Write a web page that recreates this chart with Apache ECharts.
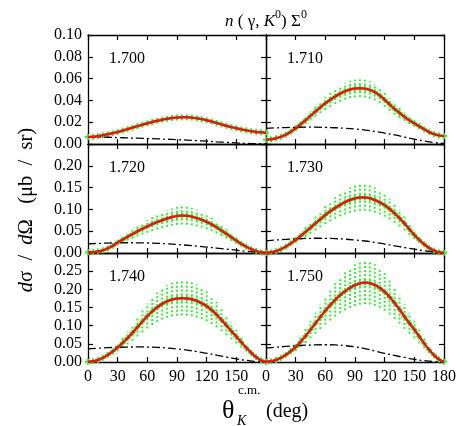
<!DOCTYPE html>
<html>
<head>
<meta charset="utf-8">
<script src="https://cdn.jsdelivr.net/npm/echarts@6/dist/echarts.min.js"></script>
<style>
  html, body { margin: 0; padding: 0; background: #fff; }
  #main { width: 463px; height: 426px; }
</style>
</head>
<body>
<div id="main"></div>
<script>
// angles of the data points (deg) and of the background curve
var angles = [0,5,10,15,20,25,30,35,40,45,50,55,60,65,70,75,80,85,90,95,100,105,110,115,120,125,130,135,140,145,150,155,160,165,170,175,180];
var bgAngles = [0,10,20,30,40,50,60,70,80,90,100,110,120,130,140,150,160,170,180];
var energies = ['1.700', '1.710', '1.720', '1.730', '1.740', '1.750'];
var xTicks = [0, 30, 60, 90, 120, 150, 180];

// full model (red) = centre of green bands
var fit1700 = [0.0065,0.0067,0.0072,0.0080,0.0089,0.0099,0.0110,0.0123,0.0136,0.0150,0.0164,0.0177,0.0190,0.0202,0.0213,0.0223,0.0231,0.0238,0.0243,0.0245,0.0245,0.0242,0.0236,0.0228,0.0218,0.0206,0.0193,0.0180,0.0167,0.0155,0.0144,0.0134,0.0125,0.0117,0.0111,0.0107,0.0104];
var fit1710 = [0.0040,0.0043,0.0052,0.0066,0.0085,0.0112,0.0144,0.0180,0.0218,0.0258,0.0298,0.0336,0.0373,0.0406,0.0436,0.0462,0.0484,0.0500,0.0509,0.0512,0.0508,0.0496,0.0476,0.0445,0.0405,0.0363,0.0322,0.0285,0.0250,0.0218,0.0190,0.0162,0.0135,0.0110,0.0091,0.0079,0.0073];
var fit1720 = [0.0015,0.0020,0.0035,0.0060,0.0105,0.0165,0.0240,0.0305,0.0370,0.0435,0.0498,0.0555,0.0610,0.0662,0.0710,0.0752,0.0790,0.0825,0.0850,0.0860,0.0855,0.0835,0.0800,0.0760,0.0715,0.0655,0.0590,0.0515,0.0440,0.0360,0.0285,0.0210,0.0145,0.0090,0.0045,0.0015,0.0005];
var fit1730 = [0.0005,0.0015,0.0040,0.0085,0.0145,0.0220,0.0300,0.0390,0.0485,0.0580,0.0680,0.0775,0.0870,0.0955,0.1035,0.1105,0.1165,0.1215,0.1250,0.1275,0.1275,0.1255,0.1215,0.1160,0.1095,0.1010,0.0910,0.0800,0.0680,0.0545,0.0415,0.0300,0.0200,0.0115,0.0055,0.0015,0.0005];
var fit1740 = [0.0005,0.0020,0.0055,0.0115,0.0195,0.0290,0.0400,0.0525,0.0660,0.0805,0.0960,0.1115,0.1265,0.1395,0.1505,0.1600,0.1670,0.1720,0.1745,0.1755,0.1750,0.1725,0.1680,0.1615,0.1535,0.1430,0.1305,0.1160,0.1005,0.0850,0.0700,0.0545,0.0395,0.0255,0.0135,0.0045,0.0010];
var fit1750 = [0.0005,0.0020,0.0055,0.0115,0.0195,0.0295,0.0410,0.0555,0.0715,0.0890,0.1065,0.1240,0.1410,0.1565,0.1710,0.1840,0.1950,0.2040,0.2115,0.2165,0.2185,0.2170,0.2120,0.2040,0.1930,0.1790,0.1625,0.1445,0.1250,0.1070,0.0895,0.0700,0.0510,0.0335,0.0185,0.0070,0.0010];

// half widths of the green error bands
var err1700 = [0.0005,0.0005,0.0005,0.0006,0.0006,0.0007,0.0008,0.0009,0.0010,0.0011,0.0012,0.0013,0.0014,0.0015,0.0016,0.0017,0.0017,0.0018,0.0018,0.0018,0.0018,0.0018,0.0018,0.0017,0.0016,0.0015,0.0014,0.0013,0.0012,0.0011,0.0010,0.0009,0.0009,0.0008,0.0008,0.0007,0.0007];
var err1710 = [0.0006,0.0007,0.0008,0.0011,0.0014,0.0018,0.0023,0.0029,0.0035,0.0041,0.0048,0.0054,0.0060,0.0065,0.0070,0.0074,0.0077,0.0080,0.0081,0.0082,0.0081,0.0079,0.0076,0.0071,0.0065,0.0058,0.0052,0.0046,0.0040,0.0035,0.0030,0.0026,0.0022,0.0018,0.0015,0.0013,0.0012];
var err1720 = [0.0004,0.0005,0.0008,0.0014,0.0025,0.0040,0.0058,0.0073,0.0089,0.0104,0.0120,0.0133,0.0146,0.0159,0.0170,0.0180,0.0190,0.0198,0.0204,0.0206,0.0205,0.0200,0.0192,0.0182,0.0172,0.0157,0.0142,0.0124,0.0106,0.0086,0.0068,0.0050,0.0035,0.0022,0.0011,0.0004,0.0001];
var err1730 = [0.0001,0.0004,0.0010,0.0020,0.0035,0.0053,0.0072,0.0094,0.0116,0.0139,0.0163,0.0186,0.0209,0.0229,0.0248,0.0265,0.0280,0.0292,0.0300,0.0306,0.0306,0.0301,0.0292,0.0278,0.0263,0.0242,0.0218,0.0192,0.0163,0.0131,0.0100,0.0072,0.0048,0.0028,0.0013,0.0004,0.0001];
var err1740 = [0.0001,0.0005,0.0015,0.0031,0.0053,0.0078,0.0108,0.0142,0.0178,0.0217,0.0259,0.0301,0.0342,0.0377,0.0406,0.0432,0.0451,0.0464,0.0471,0.0474,0.0473,0.0466,0.0454,0.0436,0.0414,0.0386,0.0352,0.0313,0.0271,0.0230,0.0189,0.0147,0.0107,0.0069,0.0036,0.0012,0.0003];
var err1750 = [0.0001,0.0005,0.0015,0.0031,0.0053,0.0080,0.0111,0.0150,0.0193,0.0240,0.0288,0.0335,0.0381,0.0423,0.0462,0.0497,0.0527,0.0551,0.0571,0.0585,0.0590,0.0586,0.0572,0.0551,0.0521,0.0483,0.0439,0.0390,0.0338,0.0289,0.0242,0.0189,0.0138,0.0090,0.0050,0.0019,0.0003];

// dash-dot background contribution
var bg1700 = [0.0065,0.0064,0.0062,0.0059,0.0056,0.0053,0.0050,0.0047,0.0044,0.0040,0.0036,0.0031,0.0026,0.0020,0.0015,0.0010,0.0006,0.0003,0.0001];
var bg1710 = [0.0144,0.0148,0.0151,0.0153,0.0154,0.0154,0.0152,0.0149,0.0144,0.0137,0.0128,0.0116,0.0100,0.0083,0.0064,0.0045,0.0027,0.0013,0.0005];
var bg1720 = [0.0210,0.0220,0.0228,0.0233,0.0235,0.0234,0.0230,0.0222,0.0210,0.0195,0.0178,0.0158,0.0136,0.0112,0.0088,0.0064,0.0040,0.0020,0.0005];
var bg1730 = [0.0280,0.0298,0.0313,0.0325,0.0334,0.0338,0.0337,0.0330,0.0317,0.0298,0.0275,0.0243,0.0205,0.0165,0.0125,0.0088,0.0055,0.0025,0.0005];
var bg1740 = [0.0360,0.0378,0.0393,0.0404,0.0411,0.0414,0.0412,0.0403,0.0385,0.0360,0.0328,0.0287,0.0240,0.0190,0.0137,0.0087,0.0045,0.0015,0.0003];
var bg1750 = [0.0380,0.0405,0.0428,0.0447,0.0462,0.0472,0.0475,0.0470,0.0450,0.0415,0.0368,0.0305,0.0240,0.0180,0.0125,0.0075,0.0038,0.0012,0.0002];

var yMax = [0.10, 0.10, 0.25, 0.25, 0.30, 0.30];
var yStep = [0.02, 0.02, 0.05, 0.05, 0.05, 0.05];

var fits = [fit1700, fit1710, fit1720, fit1730, fit1740, fit1750];
var errs = [err1700, err1710, err1720, err1730, err1740, err1750];
var bgs = [bg1700, bg1710, bg1720, bg1730, bg1740, bg1750];

var FONT = '"Liberation Serif", "Times New Roman", serif';
var GREEN = '#33ee33';
var chart = echarts.init(document.getElementById('main'));

// error bar: dotted vertical line + small cross at the centre
function errorBar(params, api) {
  var x = api.value(0), v = api.value(1), e = api.value(2);
  var lo = api.coord([x, v - e]);
  var hi = api.coord([x, v + e]);
  var c = api.coord([x, v]);
  return {
    type: 'group',
    children: [
      { type: 'line', shape: { x1: lo[0], y1: lo[1], x2: hi[0], y2: hi[1] },
        style: { stroke: GREEN, lineWidth: 2, lineDash: [2, 2] } },
      { type: 'line', shape: { x1: c[0] - 3, y1: c[1], x2: c[0] + 3, y2: c[1] },
        style: { stroke: GREEN, lineWidth: 2 } },
      { type: 'line', shape: { x1: c[0], y1: c[1] - 3, x2: c[0], y2: c[1] + 3 },
        style: { stroke: GREEN, lineWidth: 2 } }
    ]
  };
}

var axisLine = { onZero: false, lineStyle: { color: '#000', width: 1.3 } };
var axisTick = { inside: true, length: 5, lineStyle: { color: '#000', width: 1.2 } };

var grids = [], xAxes = [], yAxes = [], series = [], titles = [];
for (var i = 0; i < 6; i++) {
  var row = Math.floor(i / 2), col = i % 2;
  grids.push({ left: 88 + 178 * col, top: 35 + 109 * row, width: 178, height: 109 });
  var xBase = { gridIndex: i, type: 'value', min: 0, max: 180, interval: 30,
    axisLine: axisLine, axisTick: axisTick, splitLine: { show: false } };
  xAxes.push(Object.assign({}, xBase, {
    position: 'bottom',
    axisLabel: { show: row === 2, showMaxLabel: col === 1, margin: 7,
      fontFamily: FONT, fontSize: 16, color: '#000' }
  }));
  xAxes.push(Object.assign({}, xBase, { position: 'top', axisLabel: { show: false } }));
  var yBase = { gridIndex: i, type: 'value', min: 0, max: yMax[i], interval: yStep[i],
    axisLine: axisLine, axisTick: axisTick, splitLine: { show: false } };
  yAxes.push(Object.assign({}, yBase, {
    position: 'left',
    axisLabel: { show: col === 0, showMaxLabel: row === 0, margin: 6,
      fontFamily: FONT, fontSize: 16, color: '#000',
      formatter: function (v) { return v.toFixed(2); } }
  }));
  yAxes.push(Object.assign({}, yBase, { position: 'right', axisLabel: { show: false } }));

  var fit = fits[i], err = errs[i], bg = bgs[i];
  series.push({
    type: 'custom', xAxisIndex: 2 * i, yAxisIndex: 2 * i,
    renderItem: errorBar, z: 2, silent: true,
    data: angles.map(function (a, k) { return [a, fit[k], err[k]]; })
  });
  series.push({
    type: 'line', xAxisIndex: 2 * i, yAxisIndex: 2 * i, smooth: true, showSymbol: false,
    z: 4, lineStyle: { color: '#ee1111', width: 2.5 },
    data: angles.map(function (a, k) { return [a, fit[k]]; })
  });
  series.push({
    type: 'line', xAxisIndex: 2 * i, yAxisIndex: 2 * i, smooth: true, showSymbol: false,
    z: 3, lineStyle: { color: '#000', width: 1.3, type: [8, 3, 2, 3] },
    data: bgAngles.map(function (a, k) { return [a, bg[k]]; })
  });
  titles.push({
    text: energies[i], left: 88 + 178 * col + 21, top: 35 + 109 * row + 16,
    textStyle: { fontFamily: FONT, fontSize: 16, fontWeight: 'normal', color: '#000' },
    padding: 0
  });
}

chart.setOption({
  animation: false,
  backgroundColor: '#fff',
  title: titles,
  grid: grids,
  xAxis: xAxes,
  yAxis: yAxes,
  series: series,
  graphic: [
    { type: 'text', x: 266, y: 22, style: {
        text: '{m|}{i|n}{m| ( γ, }{i|K}{sup|0}{m|) Σ}{sup|0}',
        font: '17px ' + FONT, fill: '#000', align: 'center', verticalAlign: 'middle',
        rich: { m: { fontFamily: FONT, fontSize: 17 },
                i: { fontStyle: 'italic', fontFamily: FONT, fontSize: 17 },
                sup: { fontFamily: FONT, fontSize: 12, padding: [0, 0, 15, 0] } } } },
    { type: 'text', x: 27, y: 210, rotation: Math.PI / 2, style: {
        text: '{i|d}σ  /  {i|d}Ω   (μb  /  sr)',
        font: '20.5px ' + FONT, fill: '#000', align: 'center', verticalAlign: 'middle',
        rich: { i: { fontStyle: 'italic', fontFamily: FONT, fontSize: 20.5 } } } },
    { type: 'text', x: 222, y: 411, style: { text: 'θ', font: '26px ' + FONT, fill: '#000',
        align: 'left', verticalAlign: 'middle' } },
    { type: 'text', x: 238, y: 391, style: { text: 'c.m.', font: '13px ' + FONT, fill: '#000',
        align: 'left', verticalAlign: 'middle' } },
    { type: 'text', x: 237, y: 421, style: { text: 'K', font: 'italic 14px ' + FONT, fill: '#000',
        align: 'left', verticalAlign: 'middle' } },
    { type: 'text', x: 266, y: 412, style: { text: '(deg)', font: '20px ' + FONT, fill: '#000',
        align: 'left', verticalAlign: 'middle' } }
  ]
});
</script>
</body>
</html>
